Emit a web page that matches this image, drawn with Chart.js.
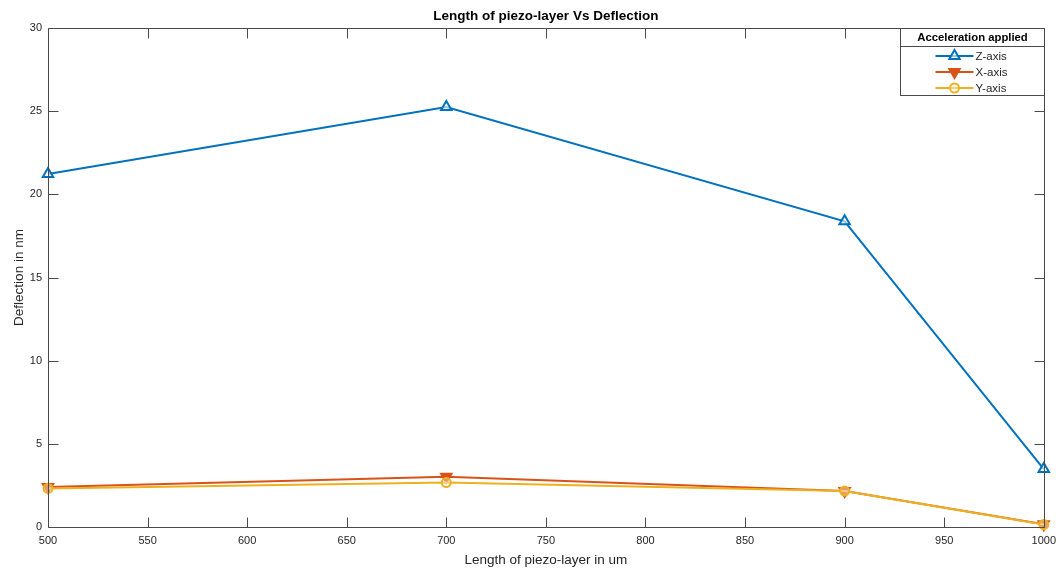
<!DOCTYPE html>
<html>
<head>
<meta charset="utf-8">
<script src="https://cdn.jsdelivr.net/npm/chart.js@4/dist/chart.umd.min.js"></script>
<style>
  html, body { margin: 0; padding: 0; background: #ffffff; }
  #wrap { width: 1063px; height: 571px; }
</style>
</head>
<body>
<div id="wrap"><canvas id="c" width="1063" height="571"></canvas></div>
<script>
// Piezo-layer lengths (um) and resulting deflections (nm) per acceleration axis
const lengths = [500, 700, 900, 1000];
const zAxis = [21.22, 25.25, 18.38, 3.48];
const xAxis = [2.40, 3.02, 2.16, 0.17];
const yAxis = [2.32, 2.67, 2.16, 0.15];

const xTicks = [500, 550, 600, 650, 700, 750, 800, 850, 900, 950, 1000];
const yTicks = [0, 5, 10, 15, 20, 25, 30];

const FONT = "'Liberation Sans', Arial, Helvetica, sans-serif";
const AXIS_COLOR = '#4a4a4a';
const TEXT_COLOR = '#262626';

function pts(values) {
  return lengths.map((x, i) => ({ x: x, y: values[i] }));
}

function drawMarker(ctx, ds, x, y) {
  ctx.save();
  ctx.fillStyle = ds.pointBackgroundColor;
  ctx.strokeStyle = ds.pointBorderColor;
  ctx.lineWidth = ds.pointBorderWidth;
  Chart.helpers.drawPoint(ctx, {
    pointStyle: ds.pointStyle,
    radius: ds.pointRadius,
    rotation: ds.pointRotation || 0,
    borderWidth: ds.pointBorderWidth
  }, x, y);
  ctx.restore();
}

// Box around the plot with inward tick marks on all four sides
const boxAxes = {
  id: 'boxAxes',
  afterDatasetsDraw(chart) {
    const { ctx, chartArea: a, scales } = chart;
    const L = 10;
    ctx.save();
    ctx.strokeStyle = AXIS_COLOR;
    ctx.lineWidth = 1;
    ctx.beginPath();
    const l = Math.round(a.left) + 0.5, r = Math.round(a.right) + 0.5;
    const t = Math.round(a.top) + 0.5, b = Math.round(a.bottom) + 0.5;
    ctx.moveTo(l, t); ctx.lineTo(r, t); ctx.lineTo(r, b); ctx.lineTo(l, b); ctx.closePath();
    xTicks.forEach(v => {
      const px = Math.round(scales.x.getPixelForValue(v)) + 0.5;
      ctx.moveTo(px, b); ctx.lineTo(px, b - L);
      ctx.moveTo(px, t); ctx.lineTo(px, t + L);
    });
    yTicks.forEach(v => {
      const py = Math.round(scales.y.getPixelForValue(v)) + 0.5;
      ctx.moveTo(l, py); ctx.lineTo(l + L, py);
      ctx.moveTo(r, py); ctx.lineTo(r - L, py);
    });
    ctx.stroke();
    ctx.restore();
  }
};

// Legend box with a heading, drawn in the upper right corner of the plot
const titledLegend = {
  id: 'titledLegend',
  afterDraw(chart) {
    const { ctx, chartArea: a } = chart;
    const w = 144, h = 67;
    const x0 = Math.round(a.right - w) + 0.5, y0 = Math.round(a.top) + 0.5;
    ctx.save();
    ctx.fillStyle = '#ffffff';
    ctx.fillRect(x0, y0, w, h);
    ctx.strokeStyle = AXIS_COLOR;
    ctx.lineWidth = 1;
    ctx.strokeRect(x0, y0, w, h);
    ctx.beginPath();
    ctx.moveTo(x0, y0 + 18); ctx.lineTo(x0 + w, y0 + 18);
    ctx.stroke();
    ctx.fillStyle = '#000000';
    ctx.font = 'bold 11.3px ' + FONT;
    ctx.textAlign = 'center';
    ctx.textBaseline = 'middle';
    ctx.fillText('Acceleration applied', x0 + w / 2, y0 + 9.5);
    const rows = [27.5, 43.5, 59.5];
    chart.data.datasets.forEach((ds, i) => {
      const yy = y0 + rows[i];
      const xs = x0 + 35, xe = x0 + 73, xm = (xs + xe) / 2;
      ctx.strokeStyle = ds.borderColor;
      ctx.lineWidth = 2;
      ctx.beginPath(); ctx.moveTo(xs, yy); ctx.lineTo(xe, yy); ctx.stroke();
      drawMarker(ctx, ds, xm, yy);
      ctx.fillStyle = TEXT_COLOR;
      ctx.font = '11.5px ' + FONT;
      ctx.textAlign = 'left';
      ctx.fillText(ds.label, xe + 2, yy + 0.5);
    });
    ctx.restore();
  }
};

const series = [
  { label: 'Z-axis', data: pts(zAxis), color: '#0072BD', fill: 'rgba(255,255,255,0.6)', style: 'triangle', rot: 0, r: 6, order: 2 },
  { label: 'X-axis', data: pts(xAxis), color: '#D95319', fill: '#D95319', style: 'triangle', rot: 180, r: 6, order: 1 },
  { label: 'Y-axis', data: pts(yAxis), color: '#EDB120', fill: 'rgba(255,255,255,0.4)', style: 'circle', rot: 0, r: 4.5, order: 0 }
];

new Chart(document.getElementById('c'), {
  type: 'line',
  data: {
    datasets: series.map(s => ({
      label: s.label,
      data: s.data,
      order: s.order,
      borderColor: s.color,
      borderWidth: 2,
      backgroundColor: s.color,
      pointStyle: s.style,
      pointRotation: s.rot,
      pointRadius: s.r,
      pointBorderWidth: 2,
      pointBorderColor: s.color,
      pointBackgroundColor: s.fill,
      tension: 0,
      clip: false
    }))
  },
  options: {
    responsive: false,
    animation: false,
    devicePixelRatio: 1,
    layout: { padding: { left: 0, right: 15, top: 0, bottom: 0 } },
    plugins: {
      legend: { display: false },
      tooltip: { enabled: false },
      title: {
        display: true,
        fullSize: false,
        text: 'Length of piezo-layer Vs Deflection',
        color: '#000000',
        font: { family: FONT, size: 13.5, weight: 'bold' },
        padding: { top: 8, bottom: 3.8 }
      }
    },
    scales: {
      x: {
        type: 'linear',
        min: 500,
        max: 1000,
        afterBuildTicks: s => { s.ticks = xTicks.map(v => ({ value: v })); },
        afterFit: s => { s.height = 44; },
        grid: { display: false, drawTicks: false },
        border: { display: false },
        ticks: {
          color: TEXT_COLOR, padding: 7, maxRotation: 0,
          font: { family: FONT, size: 11 },
          callback: v => String(v)
        },
        title: {
          display: true,
          text: 'Length of piezo-layer in um',
          color: TEXT_COLOR,
          font: { family: FONT, size: 13.5 },
          padding: { top: 0, bottom: 3 }
        }
      },
      y: {
        type: 'linear',
        min: 0,
        max: 30,
        afterBuildTicks: s => { s.ticks = yTicks.map(v => ({ value: v })); },
        afterFit: s => { s.width = 48; },
        grid: { display: false, drawTicks: false },
        border: { display: false },
        ticks: {
          color: TEXT_COLOR, padding: 6,
          font: { family: FONT, size: 11 },
          callback: v => String(v)
        },
        title: {
          display: true,
          text: 'Deflection in nm',
          color: TEXT_COLOR,
          font: { family: FONT, size: 13.5 },
          padding: { top: 11, bottom: 0 }
        }
      }
    }
  },
  plugins: [boxAxes, titledLegend]
});
</script>
</body>
</html>
